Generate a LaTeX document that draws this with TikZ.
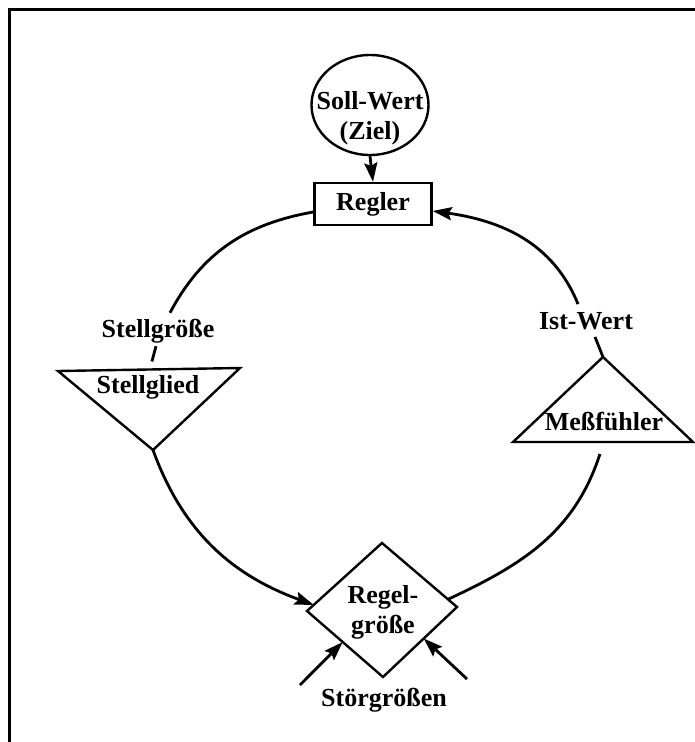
\documentclass[tikz,border=0pt]{standalone}
\usepackage{fontspec}
\setmainfont{Liberation Serif}
\usetikzlibrary{arrows.meta,calc,shapes.geometric}
\begin{document}
\begin{tikzpicture}[x=1pt,y=-1pt,
  lbl/.style={font=\bfseries\fontsize{26}{30}\selectfont, inner sep=0pt, align=center},
  conn/.style={line width=2.8pt},
  arr/.style={conn,-{Stealth[length=19pt,width=13pt,inset=3pt]}},
  shapeline/.style={line width=2.4pt}]
\useasboundingbox (0,0) rectangle (695,742);
\draw[line width=3pt] (9.5,742) -- (9.5,9.5) -- (695,9.5);

% Soll-Wert
\node[draw, shapeline, ellipse, minimum width=117pt, minimum height=100pt, inner sep=0pt] (soll) at (370,105) {};
\node[lbl] (solltxt) at (370,118) {Soll-Wert\\(Ziel)};
% Regler
\node[draw, shapeline, lbl, minimum width=117pt, minimum height=42pt] (regler) at (373,204) {Regler};
% labels
\node[lbl] (stellgr) at (158,331) {Stellgröße};
\node[lbl] (istw) at (586,321) {Ist-Wert};
\node[lbl] (stoer) at (384,700) {Störgrößen};

% Stellglied triangle
\coordinate (sgA) at (58,371);
\coordinate (sgB) at (240,368);
\coordinate (sgC) at (153,450);
\draw[shapeline, line join=miter] (sgA) -- (sgB) -- (sgC) -- cycle;
\node[lbl] (sgtxt) at (148,387) {Stellglied};

% Messfuehler triangle
\coordinate (mfA) at (603,357);
\coordinate (mfB) at (513,442);
\coordinate (mfC) at (693,442);
\draw[shapeline, line join=miter] (mfA) -- (mfB) -- (mfC) -- cycle;
\node[lbl] (mftxt) at (604,421) {Meßfühler};

% Regelgroesse diamond
\coordinate (dW) at (307,611);
\coordinate (dN) at (382,543);
\coordinate (dE) at (457,607);
\coordinate (dS) at (383,677);
\draw[shapeline, line join=miter] (dW) -- (dN) -- (dE) -- (dS) -- cycle;
\node[lbl] (dtxt) at (383,612) {Regel-\\größe};

% helper points
\coordinate (sgTop) at ($(sgA)!0.516!(sgB)+(0,-8)$);
\coordinate (mfBot) at ($(mfB)!0.483!(mfC)+(0,12)$);
\coordinate (dLin) at ($(dW)!0.09!(dN)$);
\coordinate (dRin) at ($(dE)!0.12!(dN)$);
\coordinate (dLs) at ($(dW)!0.47!(dS)$);
\coordinate (dRs) at ($(dS)!0.55!(dE)$);
\coordinate (s1) at (300,685);
\coordinate (s2) at (467,679);

% connectors
\draw[arr] (soll.south) -- (regler.north);
\draw[conn] ([yshift=-8pt]regler.west) to[out=190,in=62] ([xshift=12pt,yshift=6pt]stellgr.north);
\draw[conn] ([xshift=-2pt,yshift=-3pt]stellgr.south) -- (sgTop);
\draw[arr] (sgC) to[out=-70,in=160] (dLin);
\draw[arr] ([xshift=-8pt,yshift=8pt]istw.north) to[out=112,in=-8] ([yshift=-7pt]regler.east);
\draw[conn] ([xshift=9pt,yshift=-7pt]istw.south) -- (mfA);
\draw[conn] (mfBot) to[out=-108,in=25] (dRin);
\draw[arr] (s1) -- (dLs);
\draw[arr] (s2) -- (dRs);
\end{tikzpicture}
\end{document}
